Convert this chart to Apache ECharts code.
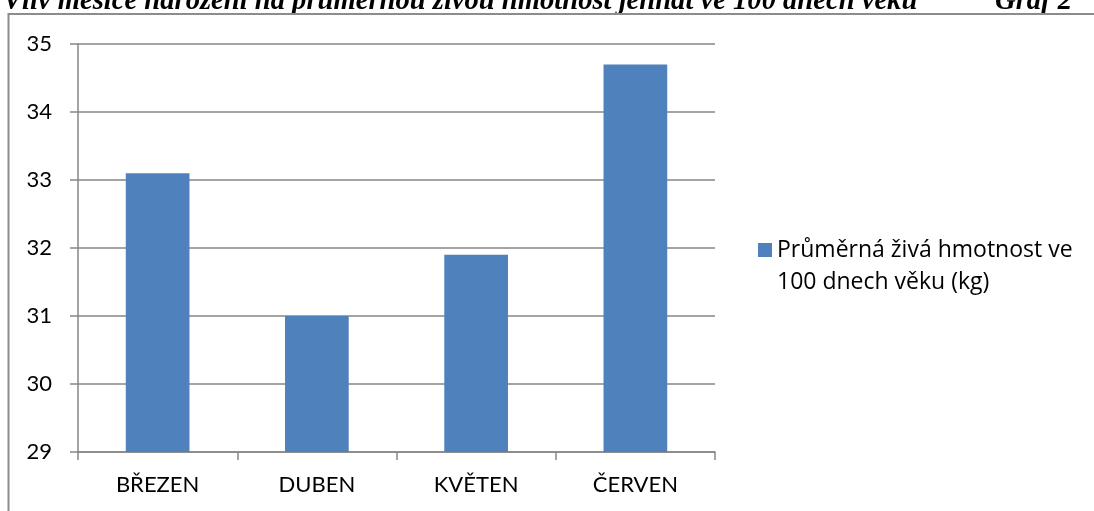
<!DOCTYPE html>
<html>
<head>
<meta charset="utf-8">
<script src="https://cdn.jsdelivr.net/npm/echarts@6/dist/echarts.min.js"></script>
<style>
  html, body { margin: 0; padding: 0; background: #fff; }
  #chart { width: 1094px; height: 511px; }
</style>
</head>
<body>
<div id="chart"></div>
<script>
// Months of birth and mean live weight of lambs at 100 days of age (kg)
const months = ['BŘEZEN', 'DUBEN', 'KVĚTEN', 'ČERVEN'];
const weights = [33.1, 31.0, 31.9, 34.7];
const seriesName = 'Průměrná živá hmotnost ve 100 dnech věku (kg)';
const legendLines = ['Průměrná živá hmotnost ve', '100 dnech věku (kg)'];
const headingText = 'Vliv měsíce narození na průměrnou živou hmotnost jehňat ve 100 dnech věku';
const figureLabel = 'Graf 2';

const axisGrey = '#868686';
const labelFont = 'Lato, "Open Sans", sans-serif';
const legendFont = '"Open Sans", Lato, sans-serif';
const headingFont = 'italic bold 28.6px "Liberation Serif", "DejaVu Serif", serif';

const chart = echarts.init(document.getElementById('chart'), null, { renderer: 'canvas' });

chart.setOption({
  backgroundColor: '#ffffff',
  animation: false,
  graphic: [
    {
      type: 'text',
      left: 3,
      top: -13,
      style: { text: headingText, font: headingFont, fill: '#000' }
    },
    {
      type: 'text',
      left: 995,
      top: -13,
      style: { text: figureLabel, font: headingFont, fill: '#000' }
    },
    {
      // frame around the chart area
      type: 'rect',
      shape: { x: 8.5, y: 14, width: 1200, height: 600 },
      style: { fill: 'none', stroke: '#8c8c8c', lineWidth: 2 },
      silent: true
    }
  ],
  grid: { left: 78, right: 379, top: 44, bottom: 59 },
  legend: {
    left: 758,
    top: 202,
    padding: 0,
    orient: 'vertical',
    icon: 'rect',
    itemWidth: 14,
    itemHeight: 14,
    // leading empty line keeps the first text line level with the swatch
    formatter: () => '\n' + legendLines.join('\n'),
    textStyle: {
      fontFamily: legendFont,
      fontSize: 23,
      color: '#000',
      lineHeight: 32
    },
    data: [seriesName]
  },
  xAxis: {
    type: 'category',
    data: months,
    axisLine: { show: true, lineStyle: { color: axisGrey, width: 1.5 } },
    axisTick: { show: true, length: 8, lineStyle: { color: axisGrey, width: 1.5 } },
    axisLabel: { fontFamily: labelFont, fontSize: 22, color: '#000', margin: 22 }
  },
  yAxis: {
    type: 'value',
    min: 29,
    max: 35,
    interval: 1,
    axisLine: { show: true, lineStyle: { color: axisGrey, width: 1.5 } },
    axisTick: { show: true, length: 8, lineStyle: { color: axisGrey, width: 1.5 } },
    splitLine: { show: true, lineStyle: { color: axisGrey, width: 1.5 } },
    axisLabel: { fontFamily: labelFont, fontSize: 22, color: '#000', margin: 26 }
  },
  series: [
    {
      name: seriesName,
      type: 'bar',
      data: weights,
      barWidth: '40%',
      itemStyle: { color: '#4f81bd' }
    }
  ]
});
</script>
</body>
</html>
